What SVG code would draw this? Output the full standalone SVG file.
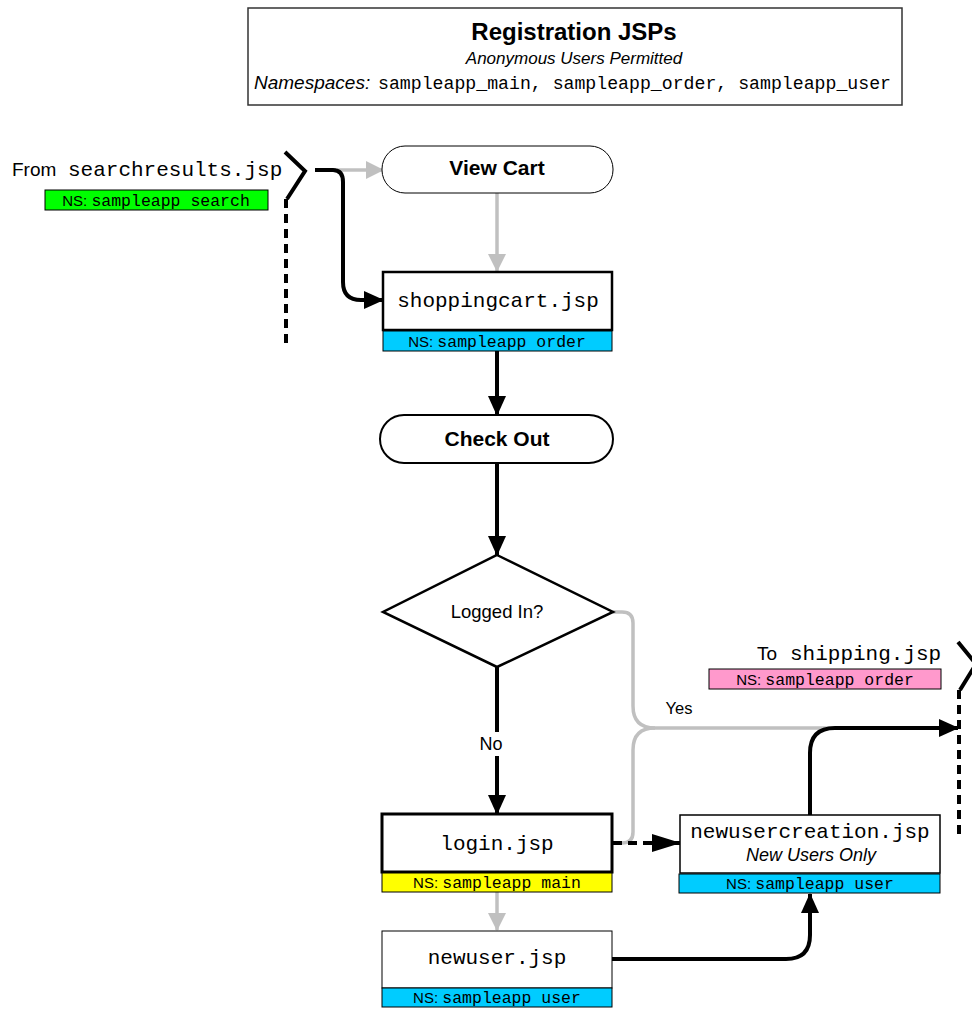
<svg xmlns="http://www.w3.org/2000/svg" width="972" height="1009" viewBox="0 0 972 1009">
<style>
.sans{font-family:"Liberation Sans",Arial,sans-serif;fill:#000}
.mono{font-family:"Liberation Mono","Courier New",monospace;fill:#000}
.box{fill:#fff;stroke:#000}
.bar{stroke:#000;stroke-width:1}
.jsp{font-family:"Liberation Mono","Courier New",monospace;font-size:21px;text-anchor:middle}
.ns{text-anchor:middle}
.nsa{font-family:"Liberation Sans",Arial,sans-serif;font-size:15px}
.nsm{font-family:"Liberation Mono","Courier New",monospace;font-size:16.5px}
.blk{fill:none;stroke:#000;stroke-width:4}
.gry{fill:none;stroke:#c0c0c0;stroke-width:3.5}
</style>
<defs>
<marker id="ab" viewBox="0 0 20 18" refX="19" refY="9" markerWidth="20" markerHeight="18" markerUnits="userSpaceOnUse" orient="auto"><path d="M0,0 L20,9 L0,18 z" fill="#000"/></marker>
<marker id="abl" viewBox="0 0 29 18" refX="28" refY="9" markerWidth="29" markerHeight="18" markerUnits="userSpaceOnUse" orient="auto"><path d="M0,0 L29,9 L0,18 z" fill="#000"/></marker>
<marker id="ag" viewBox="0 0 18 18" refX="17" refY="9" markerWidth="18" markerHeight="18" markerUnits="userSpaceOnUse" orient="auto"><path d="M0,0 L18,9 L0,18 z" fill="#c0c0c0"/></marker>
</defs>

<g id="title">
<rect x="248" y="8" width="654" height="97" fill="#fff" stroke="#333" stroke-width="1.5"/>
<text x="574" y="40" class="sans" font-size="24" font-weight="bold" text-anchor="middle">Registration JSPs</text>
<text x="574" y="64" class="sans" font-size="17" font-style="italic" text-anchor="middle">Anonymous Users Permitted</text>
<text y="89"><tspan x="254" class="sans" font-size="19" font-style="italic">Namespaces:</tspan><tspan x="378" class="mono" font-size="18.2">sampleapp_main, sampleapp_order, sampleapp_user</tspan></text>
</g>

<g id="connectors">
<path class="gry" d="M337,170 L383,170" marker-end="url(#ag)"/>
<path class="gry" d="M497,193 L497,271" marker-end="url(#ag)"/>
<path class="gry" d="M613,612 L622,612 Q633,612 633,623 L633,706 Q633,728 655,728 L945,728"/>
<path class="gry" d="M613,843 L622,843 Q633,843 633,832 L633,750 Q633,728 655,728"/>
<path class="gry" d="M497,892 L497,930" marker-end="url(#ag)"/>
<path class="blk" d="M315,170 L333,170 Q343,170 343,182 L343,282 Q343,300 361,300 L383,300" marker-end="url(#ab)"/>
<path class="blk" d="M497,351 L497,415" marker-end="url(#ab)"/>
<path class="blk" d="M497,463 L497,555" marker-end="url(#ab)"/>
<path class="blk" d="M497,667 L497,814" marker-end="url(#ab)"/>
<path class="blk" d="M613,843 L650,843" stroke-dasharray="9,6"/>
<path class="blk" d="M645,843 L680,843" stroke="none" marker-end="url(#abl)"/>
<path class="blk" d="M810,815 L810,753 Q810,728 835,728 L958,728" marker-end="url(#ab)"/>
<path class="blk" d="M612,959 L786,959 Q810,959 810,935 L810,894" marker-end="url(#ab)"/>
<polyline class="blk" points="285,152 305,171 287,199"/>
<path class="blk" d="M286,199 L286,345" stroke-dasharray="9,6"/>
<polyline class="blk" points="958,642 976,664 960,690"/>
<path class="blk" d="M959,690 L959,835" stroke-dasharray="9,6"/>
<rect x="475" y="732" width="34" height="24" fill="#fff"/>
<text x="491" y="750" class="sans" font-size="18" text-anchor="middle">No</text>
<text x="679" y="714" class="sans" font-size="16.5" text-anchor="middle">Yes</text>
</g>

<g id="from-searchresults">
<text y="176"><tspan x="12" class="sans" font-size="19">From </tspan><tspan x="68" class="mono" font-size="21">searchresults.jsp</tspan></text>
<rect x="45" y="190" width="223" height="20" fill="#00ff00" class="bar"/>
<text x="156" y="206" class="ns"><tspan class="nsa">NS: </tspan><tspan class="nsm">sampleapp search</tspan></text>
</g>

<g id="view-cart">
<rect x="382" y="146" width="231" height="47" rx="23" class="box" stroke-width="1"/>
<text x="497" y="175" class="sans" font-size="21" font-weight="bold" text-anchor="middle">View Cart</text>
</g>

<g id="shoppingcart">
<rect x="383" y="272" width="229" height="58" class="box" stroke-width="2.5"/>
<text x="498" y="307" class="jsp">shoppingcart.jsp</text>
<rect x="383" y="331" width="229" height="20" fill="#00ccff" class="bar"/>
<text x="497" y="347" class="ns"><tspan class="nsa">NS: </tspan><tspan class="nsm">sampleapp order</tspan></text>
</g>

<g id="check-out">
<rect x="380" y="415" width="233" height="48" rx="24" class="box" stroke-width="2"/>
<text x="497" y="446" class="sans" font-size="21" font-weight="bold" text-anchor="middle">Check Out</text>
</g>

<g id="logged-in">
<polygon points="497,555 613,612 497,667 383,612" class="box" stroke-width="2.5"/>
<text x="497" y="618" class="sans" font-size="18.5" text-anchor="middle">Logged In?</text>
</g>

<g id="to-shipping">
<text y="660"><tspan x="757" class="sans" font-size="19">To </tspan><tspan x="790" class="mono" font-size="21">shipping.jsp</tspan></text>
<rect x="709" y="669" width="232" height="20" fill="#ff99cc" class="bar"/>
<text x="825" y="685" class="ns"><tspan class="nsa">NS: </tspan><tspan class="nsm">sampleapp order</tspan></text>
</g>

<g id="login">
<rect x="382" y="814" width="230" height="58" class="box" stroke-width="3"/>
<text x="497" y="850" class="jsp">login.jsp</text>
<rect x="382" y="873" width="230" height="19" fill="#ffff00" class="bar"/>
<text x="497" y="888" class="ns"><tspan class="nsa">NS: </tspan><tspan class="nsm">sampleapp main</tspan></text>
</g>

<g id="newusercreation">
<rect x="680" y="815" width="260" height="58" class="box" stroke-width="1.5"/>
<text x="810" y="838" class="jsp">newusercreation.jsp</text>
<text x="811" y="861" class="sans" font-size="18" font-style="italic" text-anchor="middle">New Users Only</text>
<rect x="679" y="874" width="261" height="19" fill="#00ccff" class="bar"/>
<text x="810" y="889" class="ns"><tspan class="nsa">NS: </tspan><tspan class="nsm">sampleapp user</tspan></text>
</g>

<g id="newuser">
<rect x="382" y="931" width="230" height="57" class="box" stroke-width="1"/>
<text x="497" y="964" class="jsp">newuser.jsp</text>
<rect x="382" y="988" width="230" height="19" fill="#00ccff" class="bar"/>
<text x="497" y="1003" class="ns"><tspan class="nsa">NS: </tspan><tspan class="nsm">sampleapp user</tspan></text>
</g>
</svg>
